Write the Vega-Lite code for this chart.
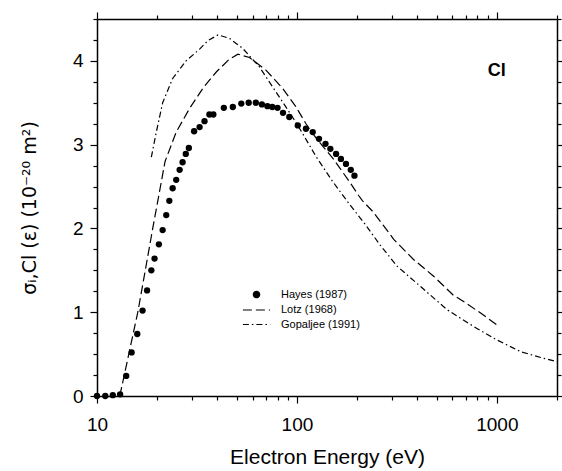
{
  "$schema": "https://vega.github.io/schema/vega-lite/v6.json",
  "width": 460,
  "height": 377,
  "autosize": "none",
  "padding": {"left": 97, "top": 19, "right": 5, "bottom": 75},
  "background": "white",
  "config": {
    "view": {"stroke": null},
    "font": "Liberation Sans",
    "axis": {
      "domainColor": "black", "domainWidth": 1.5,
      "tickColor": "black", "tickWidth": 1.2,
      "labelFont": "Liberation Sans", "labelFontSize": 19, "labelColor": "black",
      "titleFont": "Liberation Sans", "titleFontSize": 21, "titleFontWeight": "normal", "titleColor": "black",
      "grid": false
    },
    "legend": {"symbolFillColor": "black", "symbolStrokeColor": "black"}
  },
  "datasets": {
    "d": [
      {"s": "Hayes (1987)", "E": 10, "v": 0},
      {"s": "Hayes (1987)", "E": 11, "v": 0},
      {"s": "Hayes (1987)", "E": 12, "v": 0.01},
      {"s": "Hayes (1987)", "E": 13.05, "v": 0.02},
      {"s": "Hayes (1987)", "E": 14.0, "v": 0.24},
      {"s": "Hayes (1987)", "E": 14.9, "v": 0.52},
      {"s": "Hayes (1987)", "E": 15.9, "v": 0.74},
      {"s": "Hayes (1987)", "E": 16.9, "v": 1.02},
      {"s": "Hayes (1987)", "E": 17.8, "v": 1.26},
      {"s": "Hayes (1987)", "E": 18.7, "v": 1.5},
      {"s": "Hayes (1987)", "E": 19.4, "v": 1.64},
      {"s": "Hayes (1987)", "E": 20.4, "v": 1.81},
      {"s": "Hayes (1987)", "E": 21.3, "v": 1.98},
      {"s": "Hayes (1987)", "E": 22.2, "v": 2.16},
      {"s": "Hayes (1987)", "E": 23.0, "v": 2.33},
      {"s": "Hayes (1987)", "E": 23.9, "v": 2.48},
      {"s": "Hayes (1987)", "E": 24.9, "v": 2.58},
      {"s": "Hayes (1987)", "E": 25.9, "v": 2.7},
      {"s": "Hayes (1987)", "E": 26.8, "v": 2.79},
      {"s": "Hayes (1987)", "E": 27.8, "v": 2.89},
      {"s": "Hayes (1987)", "E": 28.8, "v": 2.96},
      {"s": "Hayes (1987)", "E": 30.6, "v": 3.16},
      {"s": "Hayes (1987)", "E": 32.6, "v": 3.21},
      {"s": "Hayes (1987)", "E": 34.5, "v": 3.28},
      {"s": "Hayes (1987)", "E": 36.5, "v": 3.36},
      {"s": "Hayes (1987)", "E": 38.2, "v": 3.36},
      {"s": "Hayes (1987)", "E": 43.1, "v": 3.44},
      {"s": "Hayes (1987)", "E": 47.8, "v": 3.45},
      {"s": "Hayes (1987)", "E": 52.7, "v": 3.49},
      {"s": "Hayes (1987)", "E": 57.4, "v": 3.5},
      {"s": "Hayes (1987)", "E": 62.3, "v": 3.5},
      {"s": "Hayes (1987)", "E": 66.8, "v": 3.48},
      {"s": "Hayes (1987)", "E": 71.2, "v": 3.46},
      {"s": "Hayes (1987)", "E": 75.3, "v": 3.45},
      {"s": "Hayes (1987)", "E": 80.0, "v": 3.44},
      {"s": "Hayes (1987)", "E": 85.2, "v": 3.38},
      {"s": "Hayes (1987)", "E": 91.6, "v": 3.33},
      {"s": "Hayes (1987)", "E": 101, "v": 3.23},
      {"s": "Hayes (1987)", "E": 111, "v": 3.19},
      {"s": "Hayes (1987)", "E": 120, "v": 3.15},
      {"s": "Hayes (1987)", "E": 129, "v": 3.07},
      {"s": "Hayes (1987)", "E": 139, "v": 3.01},
      {"s": "Hayes (1987)", "E": 147, "v": 2.95},
      {"s": "Hayes (1987)", "E": 157, "v": 2.89},
      {"s": "Hayes (1987)", "E": 166, "v": 2.83},
      {"s": "Hayes (1987)", "E": 176, "v": 2.77},
      {"s": "Hayes (1987)", "E": 186, "v": 2.7},
      {"s": "Hayes (1987)", "E": 194, "v": 2.63},

      {"s": "Lotz (1968)", "E": 13.0, "v": 0.0},
      {"s": "Lotz (1968)", "E": 16.0, "v": 1.0},
      {"s": "Lotz (1968)", "E": 19.0, "v": 2.0},
      {"s": "Lotz (1968)", "E": 21.9, "v": 2.8},
      {"s": "Lotz (1968)", "E": 24.9, "v": 3.15},
      {"s": "Lotz (1968)", "E": 29, "v": 3.43},
      {"s": "Lotz (1968)", "E": 34, "v": 3.68},
      {"s": "Lotz (1968)", "E": 39.6, "v": 3.87},
      {"s": "Lotz (1968)", "E": 45.9, "v": 4.02},
      {"s": "Lotz (1968)", "E": 50.7, "v": 4.08},
      {"s": "Lotz (1968)", "E": 57.9, "v": 4.04},
      {"s": "Lotz (1968)", "E": 70, "v": 3.89},
      {"s": "Lotz (1968)", "E": 85, "v": 3.67},
      {"s": "Lotz (1968)", "E": 99, "v": 3.45},
      {"s": "Lotz (1968)", "E": 111, "v": 3.25},
      {"s": "Lotz (1968)", "E": 124.5, "v": 3.08},
      {"s": "Lotz (1968)", "E": 151, "v": 2.84},
      {"s": "Lotz (1968)", "E": 183, "v": 2.56},
      {"s": "Lotz (1968)", "E": 204, "v": 2.39},
      {"s": "Lotz (1968)", "E": 213, "v": 2.33},
      {"s": "Lotz (1968)", "E": 240, "v": 2.2},
      {"s": "Lotz (1968)", "E": 270, "v": 2.04},
      {"s": "Lotz (1968)", "E": 305, "v": 1.87},
      {"s": "Lotz (1968)", "E": 383, "v": 1.63},
      {"s": "Lotz (1968)", "E": 483, "v": 1.43},
      {"s": "Lotz (1968)", "E": 608, "v": 1.2},
      {"s": "Lotz (1968)", "E": 660, "v": 1.15},
      {"s": "Lotz (1968)", "E": 830, "v": 0.99},
      {"s": "Lotz (1968)", "E": 1000, "v": 0.85},

      {"s": "Gopaljee (1991)", "E": 18.7, "v": 2.85},
      {"s": "Gopaljee (1991)", "E": 19.8, "v": 3.15},
      {"s": "Gopaljee (1991)", "E": 21.3, "v": 3.5},
      {"s": "Gopaljee (1991)", "E": 23.9, "v": 3.79},
      {"s": "Gopaljee (1991)", "E": 27.9, "v": 4.0},
      {"s": "Gopaljee (1991)", "E": 32.6, "v": 4.14},
      {"s": "Gopaljee (1991)", "E": 35.8, "v": 4.24},
      {"s": "Gopaljee (1991)", "E": 40.3, "v": 4.31},
      {"s": "Gopaljee (1991)", "E": 45.9, "v": 4.27},
      {"s": "Gopaljee (1991)", "E": 53.5, "v": 4.15},
      {"s": "Gopaljee (1991)", "E": 64.9, "v": 3.93},
      {"s": "Gopaljee (1991)", "E": 70, "v": 3.81},
      {"s": "Gopaljee (1991)", "E": 81.6, "v": 3.57},
      {"s": "Gopaljee (1991)", "E": 95, "v": 3.33},
      {"s": "Gopaljee (1991)", "E": 107, "v": 3.13},
      {"s": "Gopaljee (1991)", "E": 124.5, "v": 2.86},
      {"s": "Gopaljee (1991)", "E": 151, "v": 2.56},
      {"s": "Gopaljee (1991)", "E": 183, "v": 2.29},
      {"s": "Gopaljee (1991)", "E": 221, "v": 2.04},
      {"s": "Gopaljee (1991)", "E": 261, "v": 1.8},
      {"s": "Gopaljee (1991)", "E": 317, "v": 1.55},
      {"s": "Gopaljee (1991)", "E": 414, "v": 1.31},
      {"s": "Gopaljee (1991)", "E": 564, "v": 1.03},
      {"s": "Gopaljee (1991)", "E": 765, "v": 0.83},
      {"s": "Gopaljee (1991)", "E": 1000, "v": 0.67},
      {"s": "Gopaljee (1991)", "E": 1311, "v": 0.53},
      {"s": "Gopaljee (1991)", "E": 1714, "v": 0.45},
      {"s": "Gopaljee (1991)", "E": 2000, "v": 0.41}
    ],
    "lab": [{"t": "Cl"}]
  },
  "layer": [
    {
      "data": {"name": "d"},
      "transform": [{"filter": "datum.s !== 'Hayes (1987)'"}],
      "mark": {"type": "line", "color": "black", "strokeWidth": 1.2},
      "encoding": {
        "x": {
          "field": "E", "type": "quantitative",
          "scale": {"type": "log", "domain": [10, 2000], "nice": false},
          "axis": {
            "orient": "bottom",
            "values": [10, 20, 30, 40, 50, 60, 70, 80, 90, 100, 200, 300, 400, 500, 600, 700, 800, 900, 1000, 2000],
            "format": "d",
            "labelExpr": "(datum.value == 10 || datum.value == 100 || datum.value == 1000) ? datum.label : ''",
            "tickSize": {"condition": {"test": "datum.value == 10 || datum.value == 100 || datum.value == 1000", "value": 7}, "value": 4},
            "labelPadding": 12,
            "labelFlush": false,
            "labelOverlap": false,
            "title": "Electron Energy (eV)",
            "titlePadding": 12
          }
        },
        "y": {
          "field": "v", "type": "quantitative",
          "scale": {"domain": [0, 4.5], "nice": false, "zero": false},
          "axis": {
            "orient": "left",
            "values": [0, 0.25, 0.5, 0.75, 1, 1.25, 1.5, 1.75, 2, 2.25, 2.5, 2.75, 3, 3.25, 3.5, 3.75, 4, 4.25, 4.5],
            "labelExpr": "(datum.value % 1 === 0) ? format(datum.value, 'd') : ''",
            "tickSize": {"condition": {"test": "datum.value % 1 === 0", "value": 7}, "value": 4},
            "labelPadding": 7,
            "labelOverlap": false,
            "labelFlush": false,
            "title": "σᵢ,Cl (ε) (10⁻²⁰ m²)",
            "titleFont": "DejaVu Sans",
            "titleFontSize": 19,
            "titlePadding": 33
          }
        },
        "detail": {"field": "s"},
        "strokeDash": {
          "field": "s", "type": "nominal",
          "scale": {"domain": ["Hayes (1987)", "Lotz (1968)", "Gopaljee (1991)"], "range": [[1, 0], [9, 4], [6, 3, 1.5, 3]]},
          "legend": {
            "title": null, "orient": "none", "legendX": 154, "legendY": 270,
            "labelFont": "Liberation Sans", "labelFontSize": 11, "labelColor": "black",
            "labelOffset": 19, "rowPadding": 2.5, "symbolSize": 40,
            "symbolStrokeWidth": 1.2,
            "encode": {"symbols": {"update": {"stroke": {"value": "black"}, "fill": {"value": "black"}, "strokeWidth": {"value": 1.2}}}}
          }
        }
      }
    },
    {
      "data": {"name": "d"},
      "transform": [{"filter": "datum.s === 'Hayes (1987)'"}],
      "mark": {"type": "point", "filled": true, "color": "black", "opacity": 1, "size": 40},
      "encoding": {
        "x": {
          "field": "E", "type": "quantitative",
          "scale": {"type": "log", "domain": [10, 2000], "nice": false},
          "axis": {
            "orient": "top", "labels": false, "title": null,
            "values": [10, 20, 30, 40, 50, 60, 70, 80, 90, 100, 200, 300, 400, 500, 600, 700, 800, 900, 1000, 2000],
            "tickSize": {"condition": {"test": "datum.value == 10 || datum.value == 100 || datum.value == 1000", "value": 7}, "value": 4}
          }
        },
        "y": {
          "field": "v", "type": "quantitative",
          "scale": {"domain": [0, 4.5], "nice": false, "zero": false},
          "axis": {
            "orient": "right", "labels": false, "title": null,
            "values": [0, 0.25, 0.5, 0.75, 1, 1.25, 1.5, 1.75, 2, 2.25, 2.5, 2.75, 3, 3.25, 3.5, 3.75, 4, 4.25, 4.5],
            "tickSize": {"condition": {"test": "datum.value % 1 === 0", "value": 7}, "value": 4}
          }
        },
        "shape": {
          "field": "s", "type": "nominal",
          "scale": {"domain": ["Hayes (1987)", "Lotz (1968)", "Gopaljee (1991)"], "range": ["circle", "M-4.3,0H4.3", "M-4.3,0H4.3"]},
          "legend": {
            "title": null, "orient": "none", "legendX": 154, "legendY": 270,
            "labelFont": "Liberation Sans", "labelFontSize": 11, "labelColor": "black",
            "labelOffset": 19, "rowPadding": 2.5, "symbolSize": 40,
            "symbolStrokeWidth": 1.2,
            "encode": {"symbols": {"update": {"stroke": {"value": "black"}, "fill": {"value": "black"}, "strokeWidth": {"value": 1.2}}}}
          }
        }
      }
    },
    {
      "data": {"name": "lab"},
      "mark": {"type": "text", "font": "Liberation Sans", "fontSize": 18, "fontWeight": "bold", "color": "black", "align": "center", "baseline": "middle"},
      "encoding": {
        "text": {"field": "t"},
        "x": {"datum": 1000, "type": "quantitative", "scale": {"type": "log", "domain": [10, 2000], "nice": false}, "axis": null},
        "y": {"datum": 3.88, "type": "quantitative", "scale": {"domain": [0, 4.5], "nice": false, "zero": false}, "axis": null}
      }
    }
  ],
  "resolve": {"axis": {"x": "independent", "y": "independent"}}
}
